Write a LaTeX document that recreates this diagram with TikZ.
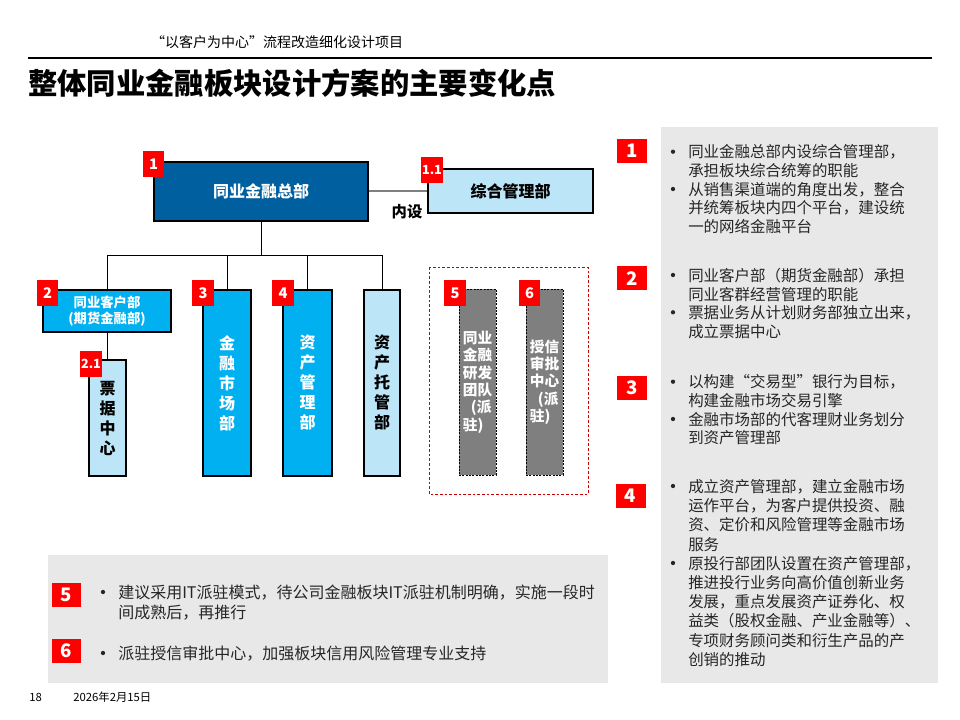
\documentclass[tikz,border=0pt]{standalone}
\usepackage{fontspec}
\setmainfont{Noto Sans CJK SC}
\definecolor{bred}{HTML}{FF0000}
\definecolor{hqblue}{HTML}{005F9E}
\definecolor{cyanbox}{HTML}{00B0F0}
\definecolor{lightbox}{HTML}{BDE5F8}
\definecolor{graybox}{HTML}{7F7F7F}
\definecolor{panelgray}{HTML}{E8E8E8}
\definecolor{txt}{HTML}{262626}
\tikzset{
  badge/.style={fill=bred, text=white, font=\bfseries\fontsize{11}{11}\selectfont, inner sep=0pt, minimum width=16.25pt, minimum height=19.5pt},
  sbadge/.style={badge, font=\bfseries\fontsize{9.5}{9.5}\selectfont},
  rbadge/.style={fill=bred, text=white, font=\bfseries\fontsize{14}{14}\selectfont, inner sep=0pt, minimum width=22.5pt, minimum height=18pt},
  orgbox/.style={draw=black, line width=0.9pt, inner sep=0pt, align=center},
  vtext/.style={font=\bfseries\fontsize{12}{15}\selectfont},
  tallbox/.style={orgbox, vtext, minimum height=139.5pt},
  grayduty/.style={draw=black, dashed, dash pattern=on 1.5pt off 1pt, line width=0.6pt, fill=graybox, text=white, inner sep=0pt, align=left, minimum width=27.75pt, minimum height=139.5pt, font=\bfseries\fontsize{11}{13}\selectfont},
  link/.style={draw=black, line width=0.75pt},
  bul/.style={circle, fill=txt, inner sep=0pt, minimum size=3.2pt},
  rtext/.style={anchor=north west, inner sep=0pt, align=left, text=txt, font=\fontsize{11.6}{14}\selectfont},
  btext/.style={anchor=north west, inner sep=0pt, align=left, text=txt, font=\fontsize{12}{15}\selectfont},
  foot/.style={font=\fontsize{8.5}{9}\selectfont, anchor=west, inner sep=0pt},
}
\begin{document}
\begin{tikzpicture}[x=0.75pt,y=-0.75pt]
\useasboundingbox (0,0) rectangle (960,720);
% header
\node[font=\fontsize{10.5}{12}\selectfont, inner sep=0pt] (hdr) at (277,42) {“以客户为中心”流程改造细化设计项目};
\draw[line width=0.8pt] (28,58) -- (932,58);
\node[font=\bfseries\fontsize{22}{26}\selectfont, anchor=west, inner sep=0pt] (title) at (28,83) {整体同业金融板块设计方案的主要变化点};
% panels
\fill[panelgray] (661,127) rectangle (938,683);
\fill[panelgray] (48,555) rectangle (608,683);
% org chart
\node[orgbox, fill=hqblue, text=white, font=\bfseries\fontsize{12}{14}\selectfont, minimum width=160.5pt, minimum height=44.25pt] (hq) at (261,191.5) {同业金融总部};
\node[orgbox, fill=lightbox, text=black, font=\bfseries\fontsize{12}{14}\selectfont, minimum width=123.75pt, minimum height=33pt] (zh) at (510.5,191) {综合管理部};
\draw[draw=graybox, line width=1.2pt] (hq.east |- zh.west) -- (zh.west);
\node[font=\bfseries\fontsize{11.5}{12}\selectfont, inner sep=0pt] (nei) at (407,212) {内设};
\node[orgbox, fill=cyanbox, text=white, font=\bfseries\fontsize{10}{11.5}\selectfont, minimum width=96pt, minimum height=31.5pt] (b2) at (107,311) {同业客户部\\(期货金融部)};
\node[orgbox, vtext, fill=lightbox, text=black, minimum width=27.75pt, minimum height=87pt] (b21) at (107.5,418) {票\\据\\中\\心};
\node[tallbox, fill=cyanbox, text=white, minimum width=36pt] (b3) at (227,383) {金\\融\\市\\场\\部};
\node[tallbox, fill=cyanbox, text=white, minimum width=36.75pt] (b4) at (307.5,383) {资\\产\\管\\理\\部};
\node[tallbox, fill=lightbox, text=black, minimum width=27pt] (b5) at (382,383) {资\\产\\托\\管\\部};
\draw[draw=red!80!black, line width=0.7pt, dash pattern=on 2pt off 1.5pt] (429,267) rectangle (588,494);
\node[grayduty] (g5) at (477.5,382) {同业\\金融\\研发\\团队\\\hspace*{0.55em}(派\\驻)};
\node[grayduty] (g6) at (544.5,382) {授信\\审批\\中心\\\hspace*{0.55em}(派\\驻)};
% connectors
\coordinate (bus) at (261,256);
\draw[link] (hq.south) -- (bus);
\draw[link] (b2.north) |- (bus);
\draw[link] (b5.north) |- (bus);
\draw[link] (b3.north) -- (b3.north |- bus);
\draw[link] (b4.north) -- (b4.north |- bus);
\draw[link] (b2.south) -- (b2.south |- b21.north);
% badges
\node[badge] (n1) at (153.5,164) {1};
\node[sbadge] (n11) at (432,170) {1.1};
\node[badge] (n2) at (47.5,293) {2};
\node[sbadge] (n21) at (91,363.5) {2.1};
\node[badge] (n3) at (203,293) {3};
\node[badge] (n4) at (283,293) {4};
\node[badge] (n5) at (455,293) {5};
\node[badge] (n6) at (529.5,293) {6};
% right panel
\node[rbadge] (r1) at (632,151) {1};
\node[rbadge] (r2) at (632,278.5) {2};
\node[rbadge] (r3) at (632,387.5) {3};
\node[rbadge] (r4) at (630.5,495.5) {4};
\node[rtext] (t1) at (688,144.5) {同业金融总部内设综合管理部，\\承担板块综合统筹的职能\\从销售渠道端的角度出发，整合\\并统筹板块内四个平台，建设统\\一的网络金融平台};
\node[bul] (t1a) at (673,151.7) {};
\node[bul] (t1b) at (673,189) {};
\node[rtext] (t2) at (688,268) {同业客户部（期货金融部）承担\\同业客群经营管理的职能\\票据业务从计划财务部独立出来，\\成立票据中心};
\node[bul] (t2a) at (673,275) {};
\node[bul] (t2b) at (673,312.3) {};
\node[rtext] (t3) at (688,374.5) {以构建“交易型”银行为目标，\\构建金融市场交易引擎\\金融市场部的代客理财业务划分\\到资产管理部};
\node[bul] (t3a) at (673,381.7) {};
\node[bul] (t3b) at (673,419) {};
\node[rtext, font=\fontsize{11.6}{14.4}\selectfont] (t4) at (688,479) {成立资产管理部，建立金融市场\\运作平台，为客户提供投资、融\\资、定价和风险管理等金融市场\\服务\\原投行部团队设置在资产管理部，\\推进投行业务向高价值创新业务\\发展，重点发展资产证券化、权\\益类（股权金融、产业金融等）、\\专项财务顾问类和衍生产品的产\\创销的推动};
\node[bul] (t4a) at (673,486) {};
\node[bul] (t4b) at (673,563) {};
% bottom panel
\node[rbadge, minimum width=21.75pt] (s5) at (66.5,594.5) {5};
\node[rbadge, minimum width=21.75pt] (s6) at (66.5,651) {6};
\node[btext] (u5) at (118,584.5) {建议采用IT派驻模式，待公司金融板块IT派驻机制明确，实施一段时\\间成熟后，再推行};
\node[bul] (u5a) at (103,592) {};
\node[btext] (u6) at (118,645.5) {派驻授信审批中心，加强板块信用风险管理专业支持};
\node[bul] (u6a) at (103,653) {};
% footer
\node[foot] (pg) at (29,697) {18};
\node[foot] (dt) at (73,697) {2026年2月15日};
\end{tikzpicture}
\end{document}
